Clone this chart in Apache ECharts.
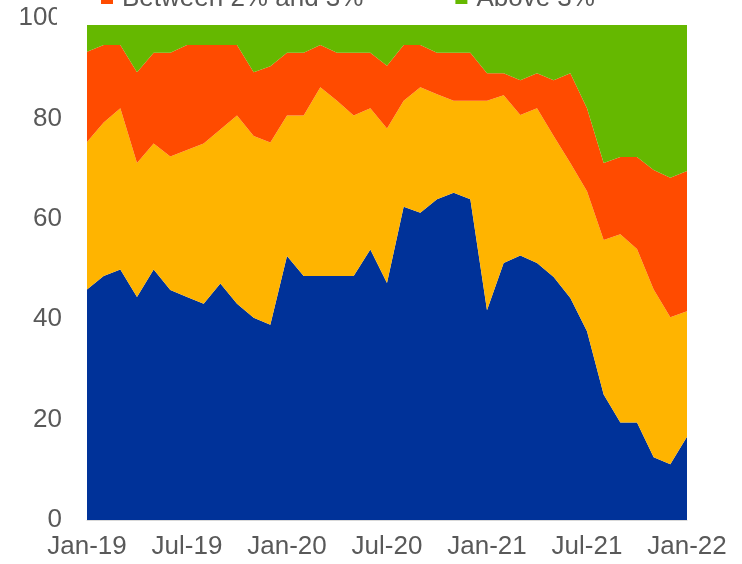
<!DOCTYPE html>
<html>
<head>
<meta charset="utf-8">
<script src="https://cdn.jsdelivr.net/npm/echarts@6/dist/echarts.min.js"></script>
<style>html,body{margin:0;padding:0;background:#fff}#c{width:742px;height:564px}</style>
</head>
<body>
<div id="c"></div>
<script>
const categories = ['Jan-19','Feb-19','Mar-19','Apr-19','May-19','Jun-19','Jul-19','Aug-19','Sep-19','Oct-19','Nov-19','Dec-19',
  'Jan-20','Feb-20','Mar-20','Apr-20','May-20','Jun-20','Jul-20','Aug-20','Sep-20','Oct-20','Nov-20','Dec-20',
  'Jan-21','Feb-21','Mar-21','Apr-21','May-21','Jun-21','Jul-21','Aug-21','Sep-21','Oct-21','Nov-21','Dec-21','Jan-22'];
const seriesNames = ['Below 1%', 'Between 1% and 2%', 'Between 2% and 3%', 'Above 3%'];
const below1 = [45.9,48.6,49.9,44.4,49.9,45.8,44.4,43.1,47.1,43.1,40.3,38.9,
  52.6,48.6,48.6,48.6,48.6,53.9,47.2,62.4,61.2,63.9,65.2,63.9,
  41.8,51.2,52.7,51.2,48.4,44.2,37.6,25.0,19.4,19.4,12.5,11.1,16.6];
const between1and2 = [29.4,30.6,32.1,26.7,25.1,26.6,29.3,31.9,30.7,37.5,36.2,36.3,
  28.0,32.0,37.6,34.9,32.0,28.1,30.8,21.1,25.0,20.9,18.3,19.6,
  41.7,33.4,28.0,30.8,28.1,26.9,27.9,30.8,37.5,34.6,33.4,29.3,25.0];
const between2and3 = [18.0,15.4,12.6,18.1,18.1,20.7,20.9,19.6,16.8,14.0,12.7,15.2,
  12.5,12.5,8.4,9.6,12.5,11.1,12.5,11.1,8.4,8.3,9.6,9.6,
  5.5,4.4,6.9,7.0,11.1,17.9,16.5,15.3,15.4,18.3,23.8,27.8,27.9];
const above3 = [6.7,5.4,5.4,10.8,6.9,6.9,5.4,5.4,5.4,5.4,10.8,9.6,
  6.9,6.9,5.4,6.9,6.9,6.9,9.5,5.4,5.4,6.9,6.9,6.9,
  11.0,11.0,12.4,11.0,12.4,11.0,18.0,28.9,27.7,27.7,30.3,31.8,30.5];
const yTicks = [0, 20, 40, 60, 80, 100];

const colors = ['#003299', '#FFB400', '#FF4B00', '#65B800'];
const values = [below1, between1and2, between2and3, above3];

const chart = echarts.init(document.getElementById('c'), null, {renderer: 'canvas'});
const font = '"Liberation Sans", Arial, sans-serif';
chart.setOption({
  animation: false,
  backgroundColor: '#ffffff',
  color: colors,
  grid: {left: 87, right: 55, top: 18, bottom: 44, containLabel: false},
  legend: {
    data: [seriesNames[2], seriesNames[3]],
    left: 96, top: -19, z: 200,
    itemWidth: 12, itemHeight: 10, itemGap: 92,
    icon: 'rect',
    textStyle: {fontFamily: font, fontSize: 26, color: '#595959', padding: [0, 0, 0, 4]}
  },
  graphic: [{
    type: 'rect', left: 57, top: 0, z: 100,
    shape: {width: 685, height: 25},
    style: {fill: '#ffffff'}
  }],
  xAxis: {
    type: 'category', data: categories, boundaryGap: false,
    axisLine: {lineStyle: {color: '#d9d9d9', width: 1}},
    axisTick: {show: false},
    axisLabel: {interval: 5, fontFamily: font, fontSize: 26, color: '#595959', margin: 14}
  },
  yAxis: {
    type: 'value', min: yTicks[0], max: yTicks[yTicks.length - 1], interval: 20,
    axisLine: {show: true, lineStyle: {color: '#d9d9d9', width: 1}},
    axisTick: {show: true, inside: true, length: 7, lineStyle: {color: '#d9d9d9'}},
    splitLine: {show: false},
    axisLabel: {fontFamily: font, fontSize: 26, color: '#595959', margin: 25}
  },
  series: seriesNames.map((n, i) => ({
    name: n, type: 'line', stack: 'total', data: values[i],
    symbol: 'none', showSymbol: false,
    lineStyle: {width: 0},
    areaStyle: {color: colors[i], opacity: 1},
    itemStyle: {color: colors[i]}
  }))
});
</script>
</body>
</html>
